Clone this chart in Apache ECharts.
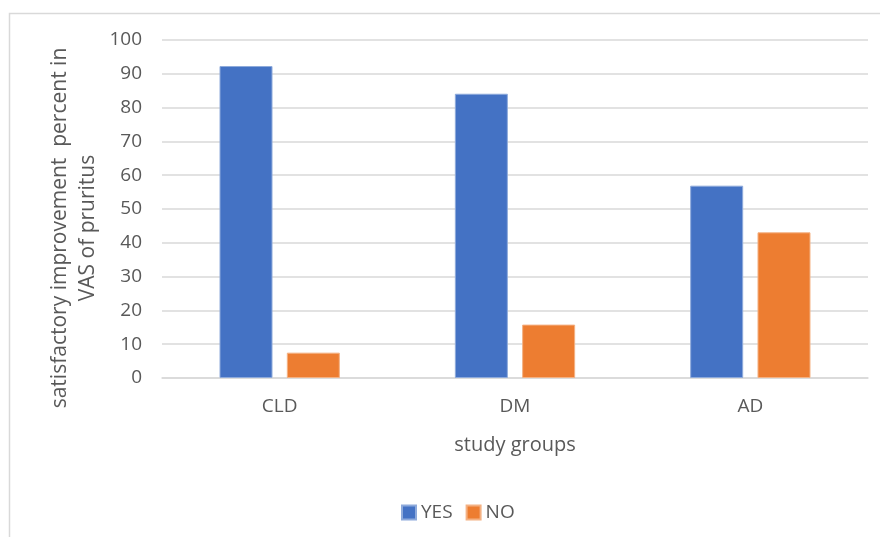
<!DOCTYPE html>
<html><head><meta charset="utf-8">
<script src="https://cdn.jsdelivr.net/npm/echarts@6/dist/echarts.min.js"></script>
<style>html,body{margin:0;padding:0;background:#fff}#c{width:880px;height:537px}</style>
</head><body><div id="c"></div>
<script>
var categories = ['CLD', 'DM', 'AD'];
var yesValues = [92.3, 84.1, 56.9];
var noValues = [7.5, 15.8, 43.1];
var yTicks = [0, 10, 20, 30, 40, 50, 60, 70, 80, 90, 100];
var yTitle = 'satisfactory improvement  percent in\nVAS of pruritus';
var xTitle = 'study groups';

var chart = echarts.init(document.getElementById('c'), null, {renderer: 'canvas'});
var txt = '#595959';
var fnt = 'Open Sans';
chart.setOption({
  animation: false,
  backgroundColor: '#fff',
  graphic: [
    {type: 'rect', shape: {x: 9.5, y: 13.5, width: 1000, height: 1000}, style: {fill: 'none', stroke: '#d9d9d9', lineWidth: 1.5}, silent: true, z: -1},
    {type: 'text', x: 74, y: 228, rotation: Math.PI / 2,
     style: {text: yTitle, fill: txt, font: '21px "Open Sans"', align: 'center', verticalAlign: 'middle', lineHeight: 28}}
  ],
  grid: {left: 162, right: 12, top: 40, bottom: 159, containLabel: false},
  legend: {
    data: ['YES', 'NO'], top: 498, left: 396, itemWidth: 14, itemHeight: 14, itemGap: 13,
    icon: 'rect', textStyle: {color: txt, fontSize: 19, fontFamily: fnt}
  },
  xAxis: {
    type: 'category', data: categories,
    name: xTitle, nameLocation: 'middle', nameGap: 57,
    nameTextStyle: {color: txt, fontSize: 20, fontFamily: fnt},
    axisLine: {lineStyle: {color: '#d9d9d9', width: 1.5}},
    axisTick: {show: false},
    axisLabel: {color: txt, fontSize: 19, fontFamily: fnt, margin: 19}
  },
  yAxis: {
    type: 'value', min: 0, max: 100, interval: 10,
    axisLine: {show: false}, axisTick: {show: false},
    axisLabel: {color: txt, fontSize: 19, fontFamily: fnt, margin: 20,
      formatter: function (v) { return yTicks.indexOf(v) >= 0 ? String(v) : ''; }},
    splitLine: {lineStyle: {color: '#d9d9d9', width: 1.5}}
  },
  series: [
    {name: 'YES', type: 'bar', data: yesValues, barWidth: 53, barGap: '27%',
     itemStyle: {color: '#4472C4', borderColor: '#8eaadb', borderWidth: 1}},
    {name: 'NO', type: 'bar', data: noValues, barWidth: 53,
     itemStyle: {color: '#ED7D31', borderColor: '#f4b183', borderWidth: 1}}
  ]
});
</script></body></html>
